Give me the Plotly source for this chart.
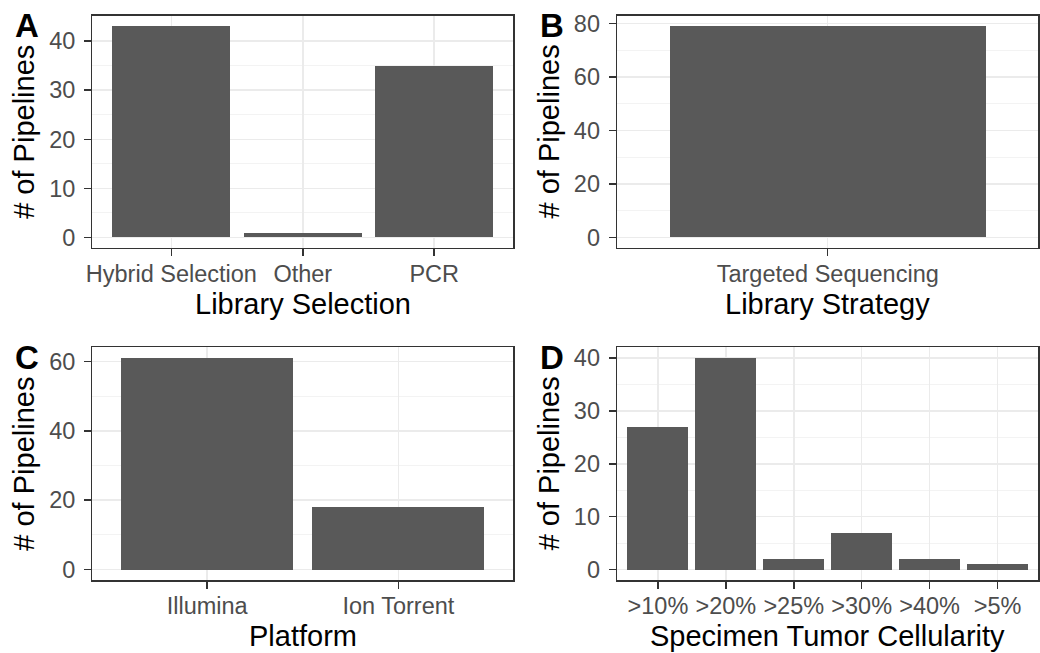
import plotly.graph_objects as go

# ---- data ----
lib_selection_cats = ["Hybrid Selection", "Other", "PCR"]
lib_selection_vals = [43, 1, 35]

lib_strategy_cats = ["Targeted Sequencing"]
lib_strategy_vals = [79]

platform_cats = ["Illumina", "Ion Torrent"]
platform_vals = [61, 18]

cellularity_cats = [">10%", ">20%", ">25%", ">30%", ">40%", ">5%"]
cellularity_vals = [27, 40, 2, 7, 2, 1]

W, H = 1040, 653
BAR = "#595959"
FONT = "Liberation Sans, Arial, Helvetica, sans-serif"
TICKFONT = 23.5
TITLEFONT = 29

# panel pixel boxes (left, right, top, bottom)
panels = [
    dict(cats=lib_selection_cats, vals=lib_selection_vals, box=(87, 510, 11, 246),
         yt=[0, 10, 20, 30, 40], minor=5, xtitle="Library Selection", letter="A"),
    dict(cats=lib_strategy_cats, vals=lib_strategy_vals, box=(614.7, 1038.3, 11, 246),
         yt=[0, 20, 40, 60, 80], minor=10, xtitle="Library Strategy", letter="B"),
    dict(cats=platform_cats, vals=platform_vals, box=(87, 510, 346.7, 582.3),
         yt=[0, 20, 40, 60], minor=10, xtitle="Platform", letter="C"),
    dict(cats=cellularity_cats, vals=cellularity_vals, box=(614.7, 1038.3, 346.7, 582.3),
         yt=[0, 10, 20, 30, 40], minor=5, xtitle="Specimen Tumor Cellularity", letter="D"),
]

fig = go.Figure()
annotations = []
for i, p in enumerate(panels, start=1):
    xa = "x" if i == 1 else f"x{i}"
    ya = "y" if i == 1 else f"y{i}"
    fig.add_trace(go.Bar(x=p["cats"], y=p["vals"], width=0.9, marker_color=BAR,
                         marker_line_width=0, xaxis=xa, yaxis=ya, showlegend=False,
                         hoverinfo="skip"))
    l, r, t, b = p["box"]
    vmax = max(p["vals"])
    pad = 0.05 * vmax
    n = len(p["cats"])
    xkey = "xaxis" if i == 1 else f"xaxis{i}"
    ykey = "yaxis" if i == 1 else f"yaxis{i}"
    fig.layout[xkey] = dict(
        domain=[l / W, r / W], anchor=ya, type="category",
        range=[-0.6, n - 1 + 0.6], showline=True, mirror=True,
        linecolor="#333333", linewidth=1.5, ticks="outside", ticklen=7,
        tickwidth=1.5, tickcolor="#333333", showgrid=True, gridcolor="#EBEBEB",
        gridwidth=1.5, tickfont=dict(family=FONT, size=TICKFONT, color="#4D4D4D"),
        ticklabelstandoff=-3, fixedrange=True,
    )
    fig.layout[ykey] = dict(
        domain=[1 - b / H, 1 - t / H], anchor=xa,
        range=[-pad, vmax + pad], tickvals=p["yt"], showline=True, mirror=True,
        linecolor="#333333", linewidth=1.5, ticks="outside", ticklen=7,
        tickwidth=1.5, tickcolor="#333333", showgrid=True, gridcolor="#EBEBEB",
        gridwidth=1.5, zeroline=False,
        minor=dict(dtick=p["minor"], tick0=0, showgrid=True,
                   gridcolor="#F3F3F3", gridwidth=1, ticks=""),
        tickfont=dict(family=FONT, size=TICKFONT, color="#4D4D4D"),
        ticklabelstandoff=4, fixedrange=True,
    )
    # x-axis title
    annotations.append(dict(text=p["xtitle"], xref="paper", yref="paper",
                            x=(l + r) / 2 / W, y=1 - (b + 57) / H,
                            xanchor="center", yanchor="middle", showarrow=False,
                            font=dict(family=FONT, size=TITLEFONT, color="black")))
    # y-axis title
    annotations.append(dict(text="# of Pipelines", xref="paper", yref="paper",
                            x=(l - 69) / W, y=1 - (t + b) / 2 / H, textangle=-90,
                            xanchor="center", yanchor="middle", showarrow=False,
                            font=dict(family=FONT, size=TITLEFONT, color="black")))
    # panel letter
    annotations.append(dict(text=f"<b>{p['letter']}</b>", xref="paper", yref="paper",
                            x=(l - 80) / W, y=1 - (t - 11) / H,
                            xanchor="left", yanchor="top", showarrow=False,
                            font=dict(family=FONT, size=33, color="black")))

fig.update_layout(
    width=W, height=H, margin=dict(l=0, r=0, t=0, b=0),
    paper_bgcolor="white", plot_bgcolor="white", bargap=0,
    annotations=annotations, font=dict(family=FONT),
)
fig.write_html("out.html", config={"displayModeBar": False, "staticPlot": True},
               post_script="document.body.style.margin='0';document.body.style.padding='0';")
